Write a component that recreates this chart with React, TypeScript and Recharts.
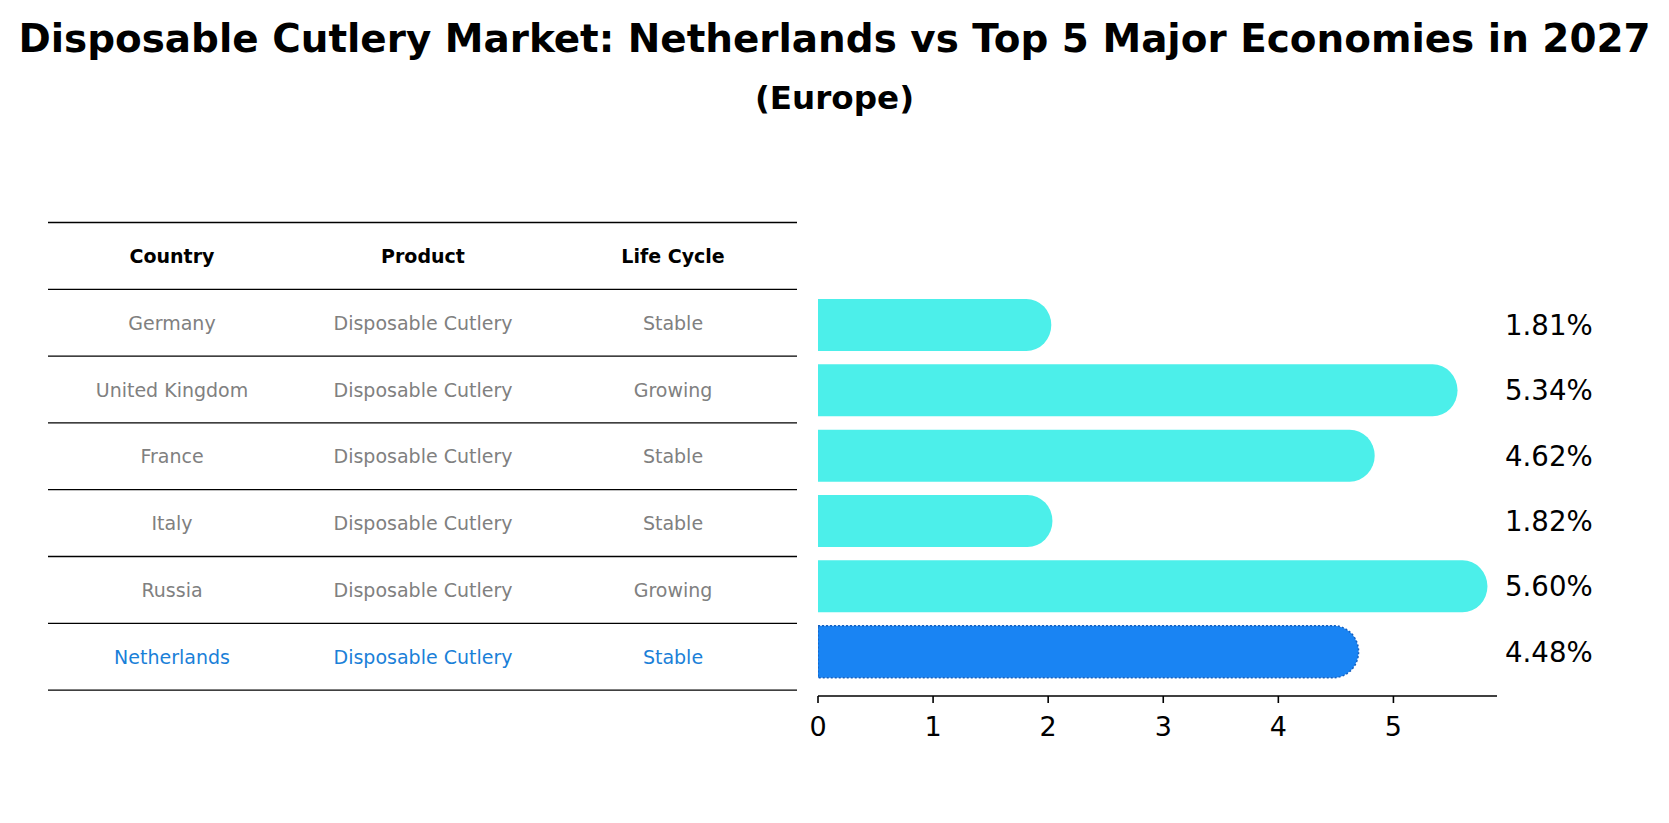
import React from 'react';
import { BarChart, Bar, XAxis, YAxis, LabelList } from 'recharts';

const countries = ['Germany', 'United Kingdom', 'France', 'Italy', 'Russia', 'Netherlands'];
const products = ['Disposable Cutlery', 'Disposable Cutlery', 'Disposable Cutlery', 'Disposable Cutlery', 'Disposable Cutlery', 'Disposable Cutlery'];
const lifeCycles = ['Stable', 'Growing', 'Stable', 'Stable', 'Growing', 'Stable'];
const growth = [1.81, 5.34, 4.62, 1.82, 5.6, 4.48];
const xTicks = [0, 1, 2, 3, 4, 5];
const headers = ['Country', 'Product', 'Life Cycle'];
const highlight = 'Netherlands';

const FONT = '"DejaVu Sans", sans-serif';
const CYAN = '#4cefea';
const BLUE = '#1984f3';
const BLUE_TEXT = '#1a80d8';
const GRAY = '#808080';

// layout
const W = 1669;
const H = 823;
const PLOT_LEFT = 818;
const PLOT_RIGHT = 1497;
const PLOT_TOP = 280;
const PLOT_BOTTOM = 696;
const X_AXIS_H = 50;

const TABLE_LEFT = 48;
const TABLE_RIGHT = 797;
const TABLE_TOP = 222.5;
const ROW_H = 66.8;
const COL_X = [172, 423, 673];

const data = countries.map((c, i) => ({ country: c, value: growth[i] }));

const RoundBar = (props: any) => {
  const { x, y, width, height, payload } = props;
  const rx = 25;
  const ry = height / 2;
  const isHl = payload.country === highlight;
  const d = `M${x},${y} H${x + width} A${rx},${ry} 0 0 1 ${x + width},${y + height} H${x} Z`;
  return (
    <path
      d={d}
      fill={isHl ? BLUE : CYAN}
      stroke={isHl ? '#1560c0' : 'none'}
      strokeWidth={isHl ? 1.5 : 0}
      strokeDasharray={isHl ? '2 2' : undefined}
    />
  );
};

const ValueLabel = (props: any) => {
  const { y, height, value } = props;
  return (
    <text
      x={PLOT_RIGHT + 8}
      y={y + height / 2 + 10}
      fontSize={27.6}
      fontFamily={FONT}
      fill="#000"
      textAnchor="start"
    >
      {`${value.toFixed(2)}%`}
    </text>
  );
};

const Table = () => {
  const rowCenter = (i: number) => TABLE_TOP + ROW_H * (i + 0.5);
  return (
    <svg width={W} height={H} style={{ position: 'absolute', left: 0, top: 0 }}>
      <text x={W / 2} y={52} textAnchor="middle" fontSize={38.9} fontWeight="bold" fontFamily={FONT} fill="#000">
        Disposable Cutlery Market: Netherlands vs Top 5 Major Economies in 2027
      </text>
      <text x={W / 2} y={109} textAnchor="middle" fontSize={32.6} fontWeight="bold" fontFamily={FONT} fill="#000">
        (Europe)
      </text>
      {Array.from({ length: countries.length + 2 }).map((_, i) => (
        <line
          key={'l' + i}
          x1={TABLE_LEFT}
          x2={TABLE_RIGHT}
          y1={TABLE_TOP + ROW_H * i}
          y2={TABLE_TOP + ROW_H * i}
          stroke="#000"
          strokeWidth={1.3}
        />
      ))}
      {headers.map((h, j) => (
        <text key={h} x={COL_X[j]} y={rowCenter(0) + 7} textAnchor="middle" fontSize={19} fontWeight="bold" fontFamily={FONT} fill="#000">
          {h}
        </text>
      ))}
      {countries.map((c, i) => {
        const color = c === highlight ? BLUE_TEXT : GRAY;
        const cells = [c, products[i], lifeCycles[i]];
        return cells.map((t, j) => (
          <text key={c + j} x={COL_X[j]} y={rowCenter(i + 1) + 7} textAnchor="middle" fontSize={19} fontFamily={FONT} fill={color}>
            {t}
          </text>
        ));
      })}
    </svg>
  );
};

export default function App() {
  return (
    <div style={{ position: 'absolute', left: 0, top: 0, width: W, height: H, background: '#fff' }}>
      <Table />
      <div style={{ position: 'absolute', left: 0, top: 0 }}>
        <BarChart
          width={W}
          height={H}
          data={data}
          layout="vertical"
          margin={{ left: PLOT_LEFT, right: W - PLOT_RIGHT, top: PLOT_TOP, bottom: H - PLOT_BOTTOM - X_AXIS_H }}
        >
          <XAxis
            type="number"
            domain={[0, 5.9]}
            ticks={xTicks}
            height={X_AXIS_H}
            axisLine={{ stroke: '#000', strokeWidth: 1.6 }}
            tickLine={{ stroke: '#000', strokeWidth: 1.6 }}
            tickSize={7}
            tickMargin={14}
            tick={{ fontSize: 27, fill: '#000', fontFamily: FONT }}
            allowDataOverflow
          />
          <YAxis type="category" dataKey="country" hide padding={{ top: 12, bottom: 12 }} />
          <Bar dataKey="value" barSize={52} shape={RoundBar} isAnimationActive={false}>
            <LabelList dataKey="value" content={ValueLabel} />
          </Bar>
        </BarChart>
      </div>
    </div>
  );
}
